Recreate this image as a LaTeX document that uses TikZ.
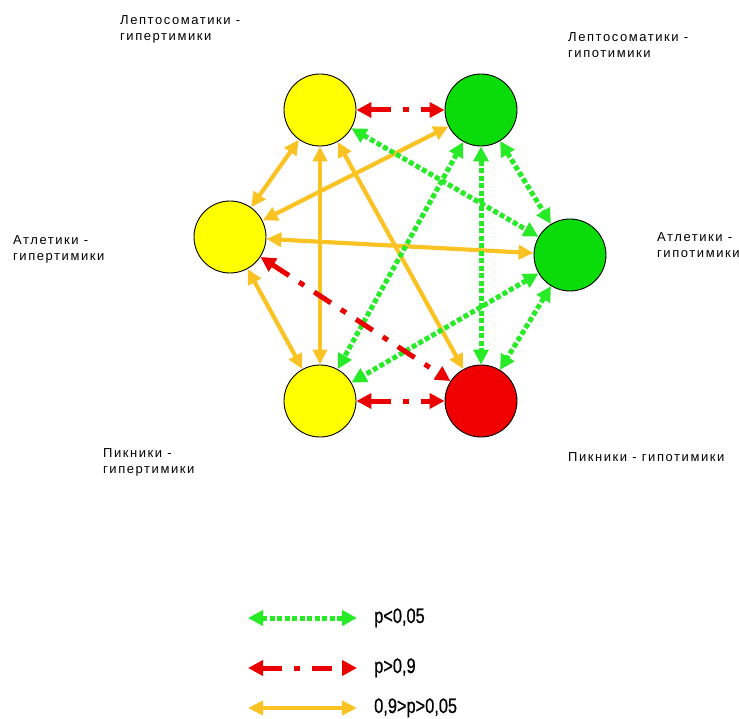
\documentclass[tikz,border=0pt]{standalone}
\usepackage{fontspec}
\usepackage{tikz}
\usetikzlibrary{arrows.meta}
\setmainfont{Liberation Sans}
\newfontfamily\lblfont[LetterSpace=12]{Liberation Sans}
\newfontfamily\keyfont[FakeStretch=0.78,FakeBold=0.6]{Liberation Sans}
\definecolor{cyellow}{RGB}{255,255,0}
\definecolor{cgreen}{RGB}{10,220,10}
\definecolor{cred}{RGB}{240,0,0}
\definecolor{agreen}{RGB}{40,235,40}
\definecolor{ared}{RGB}{235,0,0}
\definecolor{aorange}{RGB}{250,195,35}

\begin{document}
\begin{tikzpicture}[x=1pt,y=-1pt,
  group/.style={circle,draw=black,line width=0.9pt,minimum size=72pt,inner sep=0pt},
  lbl/.style={anchor=north west,inner sep=0pt,align=left,font=\lblfont\fontsize{13}{16}\selectfont},
  key/.style={anchor=base west,inner sep=0pt,font=\keyfont\fontsize{21}{24}\selectfont},
  signif/.style={draw=agreen,line width=5pt,dash pattern=on 5pt off 2.5pt,{Triangle[length=15pt,width=15pt]}-{Triangle[length=15pt,width=15pt]}},
  nonsig/.style={draw=ared,line width=5pt,dash pattern=on 20pt off 12pt on 6pt off 12pt,{Triangle[length=15pt,width=15pt]}-{Triangle[length=15pt,width=15pt]}},
  middle/.style={draw=aorange,line width=4.2pt,{Triangle[length=15pt,width=14pt]}-{Triangle[length=15pt,width=14pt]}}]
  \useasboundingbox (0,0) rectangle (739,719);
  % Groups
  \node (lh) [group,fill=cyellow] at (320,110) {};
  \node (lg) [group,fill=cgreen] at (481,110) {};
  \node (ah) [group,fill=cyellow] at (230,237) {};
  \node (ag) [group,fill=cgreen] at (570,255) {};
  \node (ph) [group,fill=cyellow] at (320,401) {};
  \node (pg) [group,fill=cred] at (481,401) {};
  % Labels
  \node (lhlbl) [lbl] at (120,15) {Лептосоматики -\\гипертимики};
  \node (lglbl) [lbl] at (568,32) {Лептосоматики -\\гипотимики};
  \node (ahlbl) [lbl] at (13,235) {Атлетики -\\гипертимики};
  \node (aglbl) [lbl] at (657,232) {Атлетики -\\гипотимики};
  \node (phlbl) [lbl] at (103,448) {Пикники -\\гипертимики};
  \node (pglbl) [lbl] at (568,452) {Пикники - гипотимики};
  % 0,9>p>0,05
  \draw[middle] (lh) -- (ah);
  \draw[middle] (lh) -- (ph);
  \draw[middle] (lh) -- (pg);
  \draw[middle] (ah) -- (lg);
  \draw[middle] (ah) -- (ag);
  \draw[middle] (ah) -- (ph);
  % p<0,05
  \draw[signif] (lh) -- (ag);
  \draw[signif] (lg) -- (ag);
  \draw[signif] (lg) -- (ph);
  \draw[signif] (lg) -- (pg);
  \draw[signif] (ag) -- (ph);
  \draw[signif] (ag) -- (pg);
  % p>0,9
  \draw[nonsig] (lh) -- (lg);
  \draw[nonsig] (ph) -- (pg);
  \draw[nonsig] (ah) -- (pg);
  % Legend
  \coordinate (k1a) at (248,618);
  \coordinate (k1b) at (357,618);
  \coordinate (k2a) at (248,668);
  \coordinate (k2b) at (357,668);
  \coordinate (k3a) at (248,708);
  \coordinate (k3b) at (357,708);
  \draw[signif] (k1a) -- (k1b);
  \draw[nonsig] (k2a) -- (k2b);
  \draw[middle] (k3a) -- (k3b);
  \node (key1) [key] at (374,623) {p<0,05};
  \node (key2) [key] at (374,673) {p>0,9};
  \node (key3) [key] at (374,713) {0,9>p>0,05};
\end{tikzpicture}
\end{document}
